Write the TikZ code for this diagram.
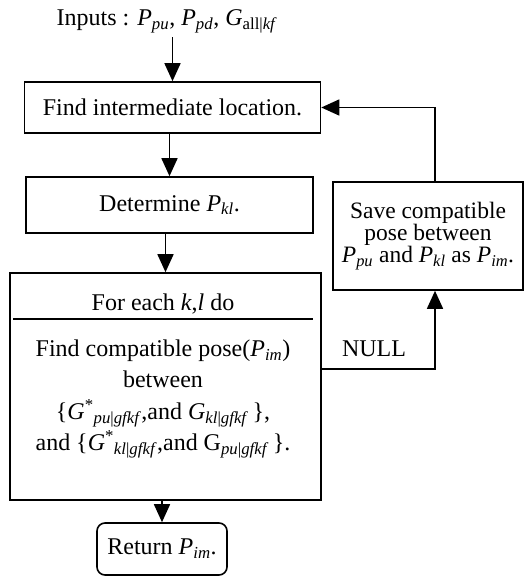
\documentclass[tikz,border=0pt]{standalone}
\usepackage{fontspec}
\setmainfont{Liberation Serif}
\usetikzlibrary{arrows.meta}
\newcommand{\vsub}[2]{\textit{#1}\textsubscript{\textit{#2}}}
\begin{document}
\begin{tikzpicture}[x=1pt,y=-1pt,
  font=\fontsize{24}{22}\selectfont,
  line width=1.6pt,
  box/.style={draw, rectangle, inner sep=0pt, align=center},
  arr/.style={-{Triangle[length=18pt,width=16pt]}}]
\useasboundingbox (0,0) rectangle (525,577);
% nodes
\node[anchor=base] (inp) at (167,26) {Inputs : \vsub{P}{pu}, \vsub{P}{pd}, \textit{G}\textsubscript{all|\textit{kf}}};
\node[box, minimum width=296pt, minimum height=51pt] (b1) at (172.5,107.5) {Find intermediate location.};
\node[box, minimum width=287pt, minimum height=56pt] (b2) at (169.5,205) {Determine \vsub{P}{kl}.};
\node[box, minimum width=311pt, minimum height=227pt] (b3) at (165.5,386.5) {};
\node[anchor=base] (head) at (163,310) {For each \textit{k},\textit{l} do};
\node[align=center, font=\fontsize{24}{31.5}\selectfont] (body) at (163,399) {Find compatible pose(\vsub{P}{im})\\
between\\
\{\textit{G}\textsuperscript{*}\textsubscript{\textit{pu}|\textit{gfkf}},and \textit{G}\textsubscript{\textit{kl}|\textit{gfkf}}\,\},\\
and \{\textit{G}\textsuperscript{*}\textsubscript{\textit{kl}|\textit{gfkf}},and G\textsubscript{\textit{pu}|\textit{gfkf}}\,\}.};
\node[box, minimum width=190pt, minimum height=108pt, font=\fontsize{23.5}{22}\selectfont] (save) at (428,236) {Save compatible\\pose between\\\vsub{P}{pu} and \vsub{P}{kl} as \vsub{P}{im}.};
\node[box, rounded corners=8pt, minimum width=130pt, minimum height=52pt] (ret) at (162,549) {Return \vsub{P}{im}.};
\node[anchor=base] (null) at (374,356) {NULL};
% divider
\draw (13,319) -- (313,319);
% connectors
\draw[arr] (b1.north |- inp.south) -- (b1.north);
\draw[arr] (b2.north |- b1.south) -- (b2.north);
\draw[arr] (b3.north |- b2.south) -- (b3.north);
\draw[arr] (ret.north |- b3.south) -- (ret.north);
\draw[arr] ([xshift=7pt]save.north) |- (b1.east);
\draw[arr] ([yshift=17.5pt]b3.east) -| ([xshift=7pt]save.south);
\end{tikzpicture}
\end{document}
